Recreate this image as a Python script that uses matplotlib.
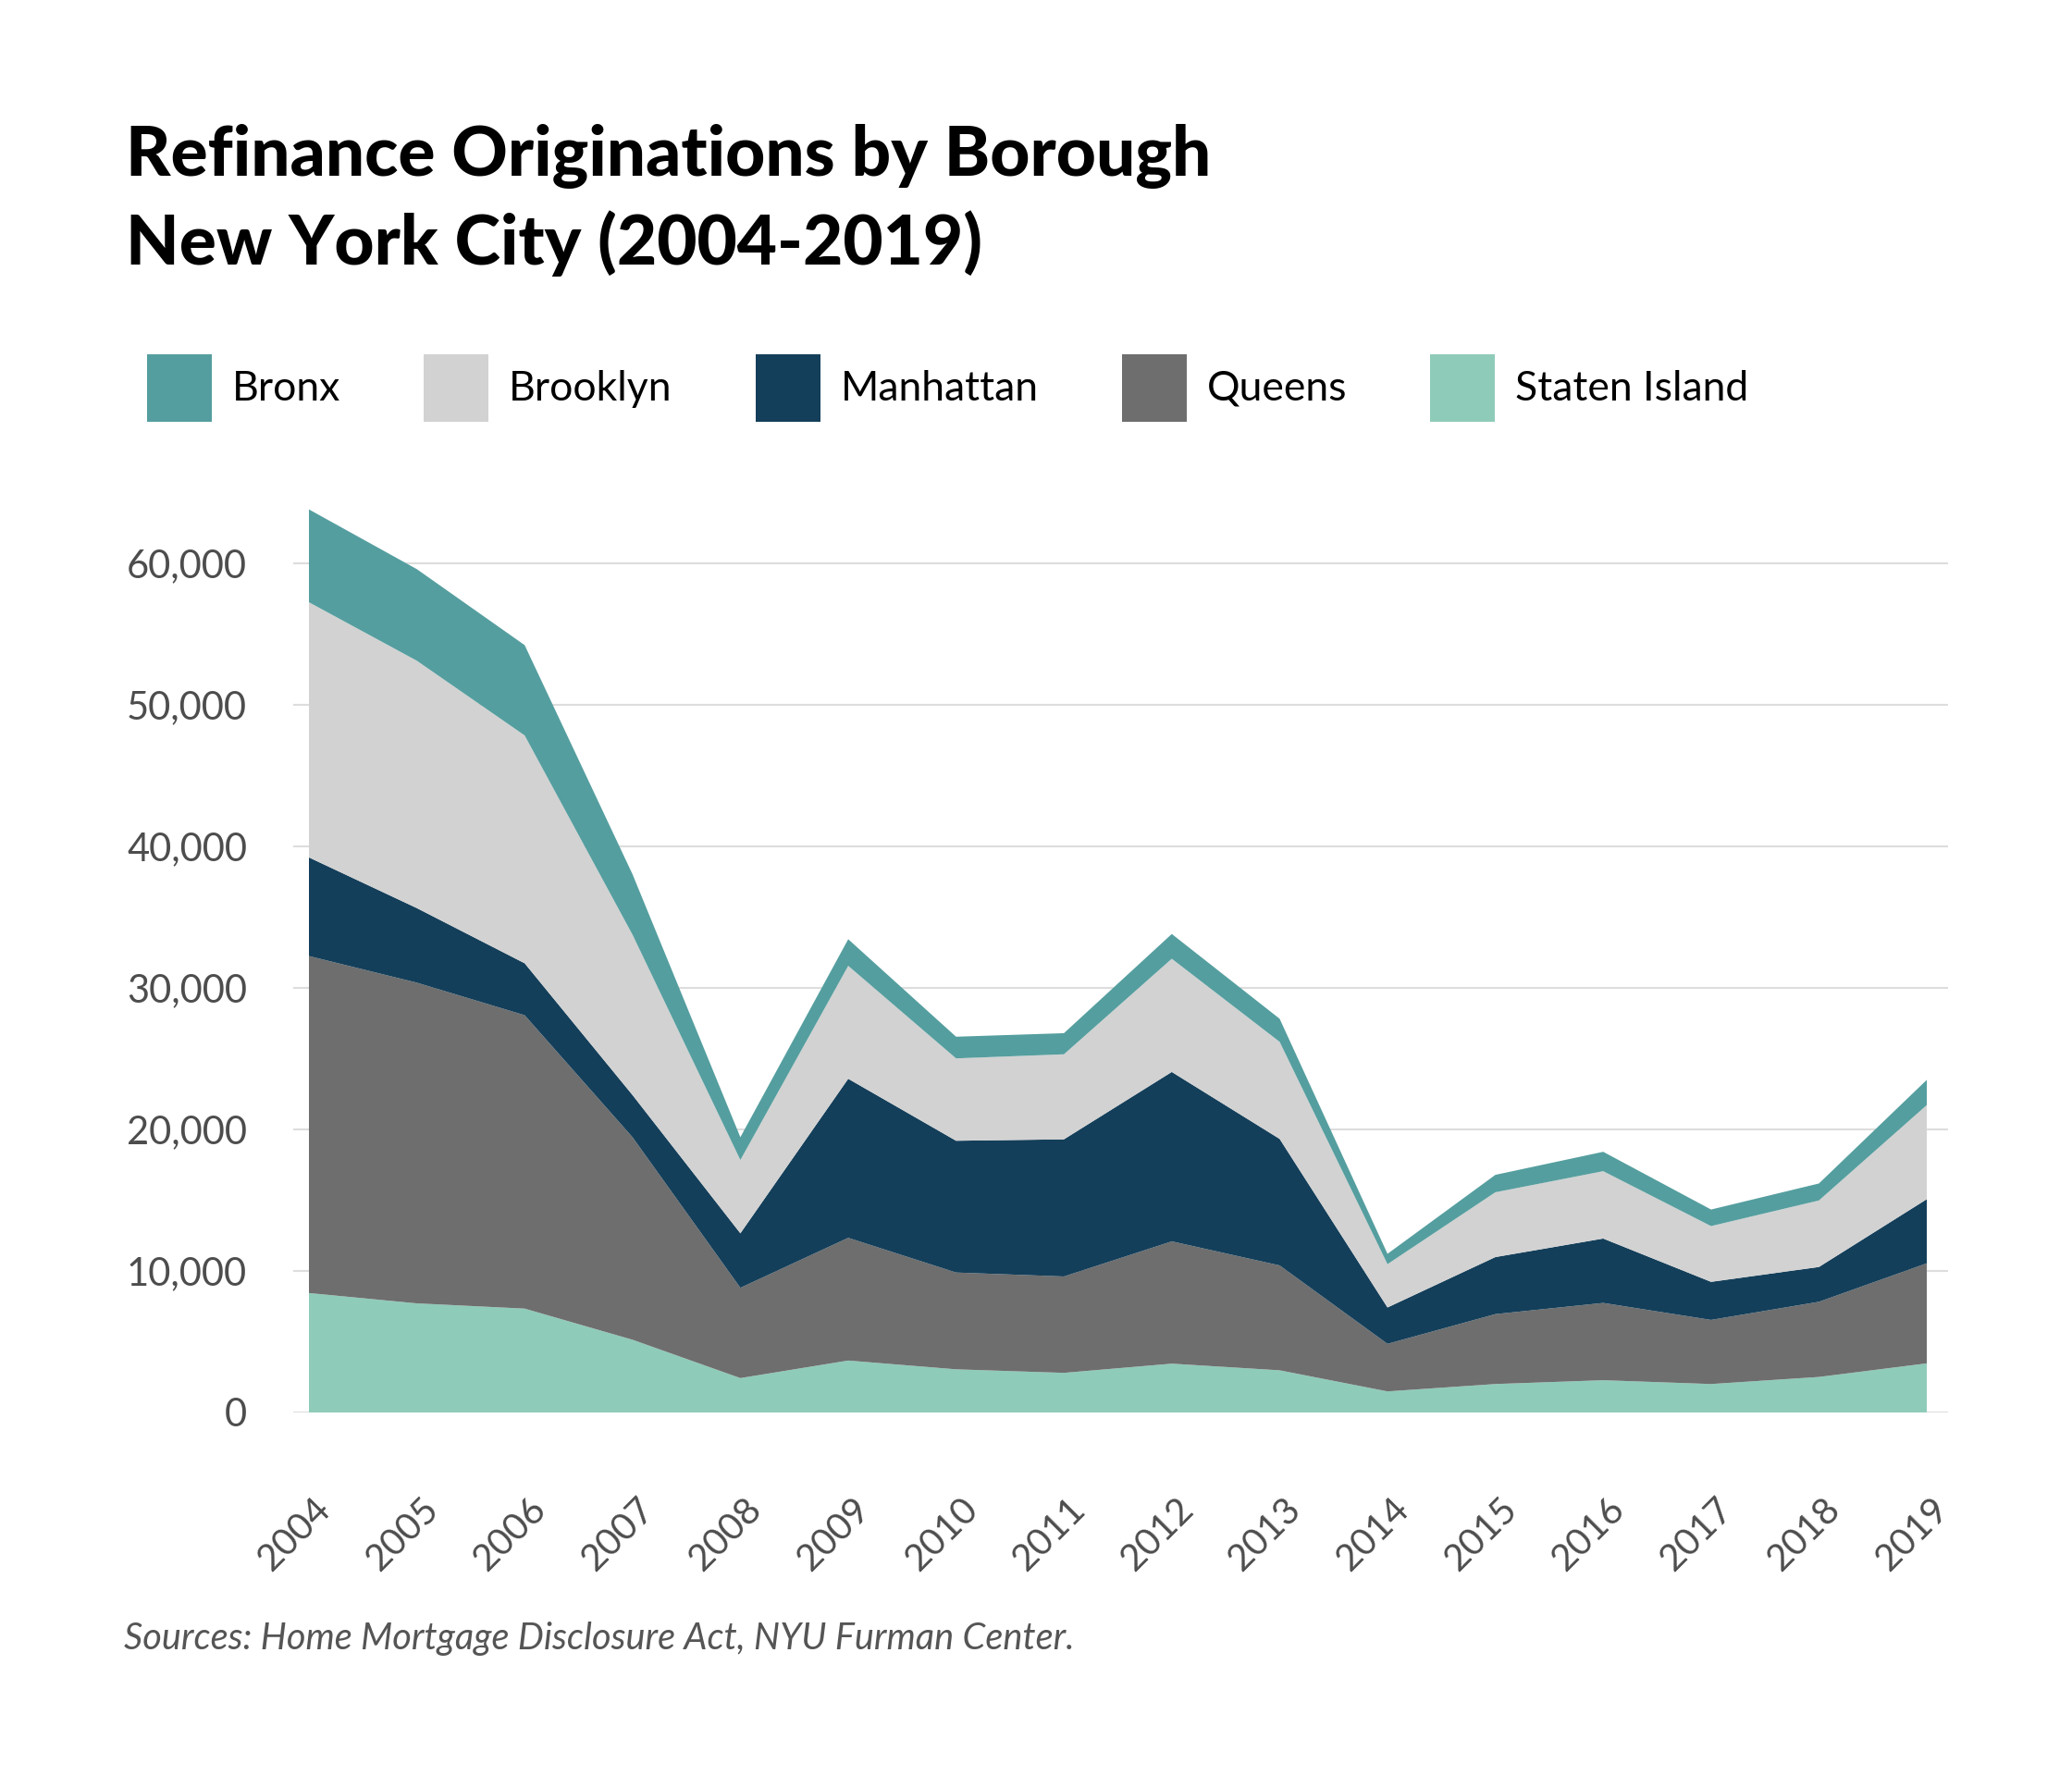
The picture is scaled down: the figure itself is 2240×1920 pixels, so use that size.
import matplotlib
matplotlib.use("Agg")
import matplotlib.pyplot as plt
from matplotlib.patches import Patch
from matplotlib.transforms import ScaledTranslation
import numpy as np

years = list(range(2004, 2020))
staten_island = [8440, 7710, 7340, 5140, 2430, 3670, 3050, 2800, 3450, 2980, 1490, 2010, 2280, 2010, 2510, 3470]
queens = [23810, 22660, 20730, 14310, 6380, 8670, 6840, 6810, 8640, 7410, 3360, 4940, 5460, 4530, 5310, 7070]
manhattan = [6970, 5270, 3670, 2980, 3850, 11240, 9310, 9690, 11970, 8940, 2570, 4030, 4550, 2690, 2460, 4530]
brooklyn = [18030, 17480, 16100, 11330, 5180, 7980, 5820, 6010, 8000, 6860, 3060, 4580, 4760, 3940, 4700, 6650]
bronx = [6560, 6470, 6380, 4270, 1610, 1880, 1530, 1490, 1750, 1630, 730, 1230, 1370, 1170, 1200, 1780]

stack_names = ["Staten Island", "Queens", "Manhattan", "Brooklyn", "Bronx"]
stack_values = [staten_island, queens, manhattan, brooklyn, bronx]
colors = {"Bronx": "#559e9f", "Brooklyn": "#d2d2d2", "Manhattan": "#143f5a",
          "Queens": "#6e6e6e", "Staten Island": "#8fcbb9"}
legend_order = ["Bronx", "Brooklyn", "Manhattan", "Queens", "Staten Island"]
yticks = [0, 10000, 20000, 30000, 40000, 50000, 60000]
ytick_labels = ["0", "10,000", "20,000", "30,000", "40,000", "50,000", "60,000"]

plt.rcParams['font.family'] = ['Lato', 'DejaVu Sans']

fig = plt.figure(figsize=(22.4, 19.2), dpi=100)
ax = fig.add_axes([317/2240, 1 - 1527/1920, (2106-317)/2240, (1527-532.5)/1920])

ax.stackplot(years, *stack_values, colors=[colors[n] for n in stack_names],
             linewidth=0, zorder=3)

ax.set_xlim(2004 - 17/116.6, 2019 + 23/116.6)
ax.set_ylim(0, 65000)
ax.set_yticks(yticks)
ax.set_yticklabels(ytick_labels)
ax.set_xticks(years)
ax.set_xticklabels([str(y) for y in years], rotation=45, ha='center')
ax.grid(axis='y', color='#dddddd', linewidth=1.5, zorder=0)
ax.set_axisbelow(True)
for s in ax.spines.values():
    s.set_visible(False)
ax.tick_params(axis='y', length=0, pad=36, labelsize=30, labelcolor='#4d4d4d')
ax.tick_params(axis='x', length=0, pad=62, labelsize=29, labelcolor='#4d4d4d')
for lab in ax.get_xticklabels():
    lab.set_transform(lab.get_transform() + ScaledTranslation(-0.16, 0, fig.dpi_scale_trans))

fig.text(136/2240, 1 - 190/1920, "Refinance Originations by Borough", fontsize=53.8,
         fontweight='black', color='#000000', ha='left', va='baseline')
fig.text(136/2240, 1 - 286/1920, "New York City (2004-2019)", fontsize=53.8,
         fontweight='black', color='#000000', ha='left', va='baseline')

handles = [Patch(facecolor=colors[n], edgecolor='none', label=n) for n in legend_order]
fs = 32
px = fs * 100 / 72
fig.legend(handles=handles, loc='center left', bbox_to_anchor=(159/2240, 1 - 419/1920),
           ncol=5, frameon=False, fontsize=fs, handlelength=70/px, handleheight=2.15,
           handletextpad=22/px, columnspacing=90/px, borderpad=0, borderaxespad=0)

fig.text(134/2240, 1 - 1783/1920, "Sources: Home Mortgage Disclosure Act, NYU Furman Center.",
         fontsize=28.6, fontstyle='italic', color='#555555', ha='left', va='baseline')

fig.savefig("out.png", dpi=100, facecolor='white')
